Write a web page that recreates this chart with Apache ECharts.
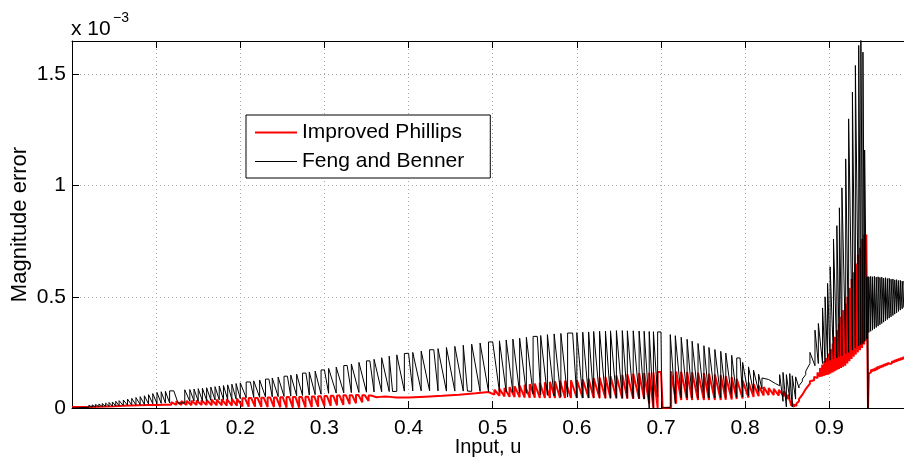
<!DOCTYPE html>
<html><head><meta charset="utf-8">
<script src="https://cdn.jsdelivr.net/npm/echarts@6/dist/echarts.min.js"></script>
<style>html,body{margin:0;padding:0;background:#fff}#c{width:904px;height:459px}</style>
</head><body><div id="c"></div>
<script>
// values: [u, low, high] vertices of the traced curves, magnitude error in units of 1e-3
const xMin = 0, xMax = 0.9888, xStep = 0.1;
const yMin = 0, yMax = 1.65, yStep = 0.5;
const seriesNames = ['Improved Phillips', 'Feng and Benner'];

const redStart = [[0,0.004,0.004],[0.020,0.005,0.005],[0.040,0.007,0.007],[0.050,0.008,0.010],[0.060,0.010,0.013],[0.070,0.011,0.015],[0.080,0.012,0.017],[0.090,0.013,0.019],[0.100,0.014,0.021],[0.110,0.015,0.023],[0.118,0.015,0.026],[0.124,0.014,0.030],[0.130,0.014,0.031],[0.136,0.014,0.032],[0.142,0.013,0.033],[0.148,0.013,0.034],[0.154,0.013,0.035],[0.160,0.013,0.036],[0.166,0.012,0.037],[0.172,0.012,0.038],[0.178,0.012,0.039],[0.184,0.011,0.040],[0.190,0.011,0.041],[0.196,0.010,0.042]];
const redSquare = [[0.2025,0.007,0.044],[0.2055,0.044,0.044],[0.2100,0.006,0.045],[0.2130,0.045,0.045],[0.2175,0.006,0.045],[0.2205,0.045,0.045],[0.2250,0.005,0.046],[0.2280,0.046,0.046],[0.2325,0.004,0.047],[0.2355,0.047,0.047],[0.2400,0.004,0.047],[0.2430,0.047,0.047],[0.2475,0.003,0.048],[0.2505,0.048,0.048],[0.2550,0.002,0.049],[0.2580,0.049,0.049],[0.2625,0.002,0.050],[0.2655,0.050,0.050],[0.2700,0.002,0.050],[0.2730,0.050,0.050],[0.2775,0.003,0.051],[0.2805,0.051,0.051],[0.2850,0.004,0.052],[0.2880,0.052,0.052],[0.2925,0.006,0.053],[0.2955,0.053,0.053],[0.3000,0.008,0.054],[0.3030,0.054,0.054],[0.3075,0.010,0.055],[0.3105,0.055,0.055],[0.3150,0.012,0.056],[0.3180,0.056,0.056],[0.3225,0.014,0.057],[0.3255,0.057,0.057],[0.3300,0.017,0.057],[0.3330,0.057,0.057],[0.3375,0.021,0.058],[0.3405,0.058,0.058],[0.3450,0.026,0.057],[0.3480,0.057,0.057],[0.3525,0.032,0.056],[0.3555,0.056,0.056]];
const redSmooth = [[0.362,0.048,0.055],[0.366,0.050,0.050],[0.372,0.052,0.056],[0.378,0.050,0.050],[0.385,0.047,0.052],[0.400,0.047,0.047],[0.420,0.051,0.052],[0.440,0.055,0.056],[0.460,0.060,0.061],[0.480,0.066,0.067],[0.495,0.072,0.075]];
const redOsc = [[0.502,0.060,0.082],[0.508,0.055,0.086],[0.514,0.052,0.090],[0.520,0.050,0.094],[0.526,0.049,0.098],[0.532,0.048,0.101],[0.538,0.047,0.104],[0.544,0.046,0.107],[0.550,0.046,0.110],[0.556,0.045,0.113],[0.562,0.045,0.116],[0.568,0.045,0.118],[0.574,0.045,0.120],[0.580,0.045,0.122],[0.586,0.045,0.123],[0.593,0.045,0.125],[0.600,0.045,0.126],[0.607,0.045,0.128],[0.614,0.045,0.131],[0.620,0.045,0.134],[0.627,0.045,0.137],[0.634,0.044,0.140],[0.640,0.044,0.143],[0.647,0.044,0.146],[0.654,0.043,0.149],[0.660,0.043,0.152],[0.667,0.042,0.154],[0.674,0.041,0.156],[0.680,0.040,0.157],[0.686,0.020,0.158],[0.691,0.000,0.160],[0.696,0.000,0.162],[0.700,0.162,0.162],[0.702,0.000,0.000],[0.712,0.002,0.165],[0.718,0.020,0.164]];
const redFall = [[0.724,0.036,0.163],[0.731,0.036,0.162],[0.737,0.036,0.161],[0.744,0.036,0.159],[0.751,0.036,0.157],[0.757,0.036,0.154],[0.764,0.036,0.151],[0.771,0.036,0.147],[0.777,0.037,0.143],[0.784,0.038,0.138],[0.790,0.040,0.131],[0.797,0.043,0.123],[0.804,0.047,0.115],[0.810,0.050,0.108],[0.816,0.053,0.100],[0.822,0.056,0.094],[0.828,0.058,0.090],[0.834,0.058,0.086],[0.840,0.056,0.082],[0.846,0.052,0.075],[0.851,0.040,0.060],[0.855,0.010,0.030],[0.858,0.004,0.015],[0.861,0.010,0.020],[0.864,0.030,0.040],[0.868,0.060,0.065],[0.872,0.085,0.090],[0.877,0.110,0.120],[0.882,0.125,0.140],[0.886,0.135,0.160]];
const redSpikes = [[0.889,0.140,0.180],[0.8915,0.142,0.195],[0.894,0.145,0.210],[0.8965,0.148,0.225],[0.899,0.150,0.245],[0.9015,0.155,0.265],[0.904,0.160,0.290],[0.9065,0.165,0.320],[0.909,0.170,0.350],[0.9115,0.175,0.380],[0.914,0.180,0.410],[0.9165,0.185,0.440],[0.919,0.190,0.470],[0.9215,0.200,0.500],[0.924,0.210,0.540],[0.9265,0.220,0.580],[0.929,0.230,0.610],[0.9315,0.240,0.650],[0.934,0.250,0.690],[0.9365,0.260,0.720],[0.939,0.270,0.760],[0.9415,0.285,0.780],[0.944,0.300,0.780]];
const redTail = [[0.9452,0.300,0.300],[0.9460,0.000,0.000],[0.9470,0.155,0.160],[0.9495,0.160,0.172],[0.952,0.165,0.175],[0.9545,0.168,0.180],[0.957,0.172,0.185],[0.9595,0.178,0.188],[0.962,0.182,0.192],[0.9645,0.186,0.196],[0.967,0.190,0.199],[0.9695,0.194,0.203],[0.972,0.198,0.206],[0.9745,0.201,0.210],[0.977,0.205,0.214],[0.9795,0.208,0.218],[0.982,0.212,0.221],[0.9845,0.215,0.225],[0.987,0.218,0.228],[0.9895,0.222,0.231],[0.992,0.225,0.234]];

const blackRise = [[0,0,0],[0.004,0.000,0.004],[0.008,0.001,0.006],[0.012,0.002,0.008],[0.016,0.002,0.010],[0.020,0.003,0.012],[0.024,0.004,0.014],[0.028,0.004,0.016],[0.032,0.005,0.018],[0.036,0.006,0.020],[0.040,0.006,0.022],[0.044,0.007,0.025],[0.048,0.008,0.027],[0.052,0.009,0.030],[0.056,0.010,0.033],[0.061,0.011,0.036],[0.066,0.012,0.040],[0.071,0.013,0.043],[0.076,0.014,0.047],[0.081,0.015,0.051],[0.086,0.016,0.055],[0.091,0.018,0.060],[0.096,0.019,0.065],[0.101,0.020,0.070],[0.106,0.021,0.073],[0.111,0.022,0.075],[0.116,0.023,0.077],[0.121,0.077,0.077],[0.126,0.022,0.022],[0.134,0.023,0.082],[0.140,0.030,0.083],[0.145,0.031,0.085],[0.150,0.032,0.087],[0.155,0.033,0.089],[0.160,0.034,0.091],[0.165,0.035,0.094],[0.170,0.036,0.096],[0.175,0.037,0.099],[0.180,0.038,0.101],[0.185,0.039,0.104],[0.190,0.040,0.107],[0.195,0.041,0.110],[0.200,0.042,0.113]];
const blackMid = [[0.207,0.046,0.117],[0.212,0.117,0.117],[0.216,0.047,0.122],[0.223,0.048,0.126],[0.230,0.049,0.130],[0.234,0.130,0.130],[0.238,0.050,0.135],[0.245,0.051,0.139],[0.252,0.052,0.143],[0.256,0.143,0.143],[0.260,0.053,0.148],[0.267,0.055,0.152],[0.274,0.056,0.157],[0.278,0.157,0.157],[0.282,0.058,0.162],[0.289,0.060,0.166],[0.296,0.062,0.171],[0.300,0.171,0.171],[0.305,0.066,0.178],[0.314,0.067,0.184],[0.323,0.068,0.191],[0.327,0.191,0.191],[0.332,0.069,0.198],[0.341,0.070,0.205],[0.350,0.071,0.212],[0.354,0.212,0.212],[0.359,0.072,0.219],[0.368,0.073,0.226],[0.377,0.074,0.233],[0.381,0.074,0.074],[0.386,0.075,0.239],[0.395,0.076,0.245],[0.400,0.246,0.246],[0.405,0.077,0.250],[0.415,0.077,0.256],[0.425,0.077,0.262],[0.430,0.262,0.262],[0.435,0.077,0.267],[0.445,0.076,0.272],[0.455,0.076,0.277],[0.465,0.076,0.282],[0.470,0.076,0.076],[0.475,0.075,0.287],[0.485,0.075,0.292],[0.495,0.074,0.297],[0.500,0.297,0.297]];
const blackHigh = [[0.508,0.073,0.302],[0.516,0.072,0.306],[0.524,0.070,0.310],[0.532,0.068,0.314],[0.540,0.066,0.318],[0.548,0.063,0.322],[0.553,0.322,0.322],[0.557,0.060,0.326],[0.565,0.057,0.330],[0.573,0.054,0.333],[0.581,0.051,0.335],[0.589,0.049,0.337],[0.595,0.337,0.337],[0.600,0.046,0.339],[0.607,0.045,0.341],[0.614,0.045,0.342],[0.620,0.045,0.344],[0.627,0.044,0.345],[0.634,0.044,0.346],[0.640,0.044,0.347],[0.647,0.044,0.348],[0.654,0.044,0.348],[0.660,0.043,0.347],[0.667,0.043,0.347],[0.674,0.042,0.346],[0.680,0.040,0.345],[0.686,0.000,0.344],[0.691,0.000,0.343],[0.696,0.050,0.342],[0.700,0.342,0.342],[0.701,0.000,0.000],[0.711,0.003,0.330],[0.717,0.020,0.325]];
const blackFall = [[0.724,0.045,0.318],[0.731,0.045,0.309],[0.737,0.045,0.300],[0.744,0.045,0.290],[0.751,0.045,0.280],[0.757,0.045,0.272],[0.764,0.046,0.263],[0.771,0.046,0.255],[0.777,0.047,0.247],[0.784,0.047,0.237],[0.790,0.048,0.225],[0.794,0.225,0.225],[0.797,0.050,0.205],[0.804,0.055,0.185],[0.810,0.070,0.170],[0.816,0.075,0.152],[0.820,0.085,0.135],[0.828,0.128,0.128],[0.836,0.110,0.110],[0.841,0.100,0.150],[0.845,0.030,0.160],[0.849,0.005,0.150],[0.853,0.040,0.155],[0.856,0.005,0.145],[0.860,0.040,0.140],[0.864,0.090,0.100],[0.868,0.120,0.130],[0.872,0.150,0.165]];
const blackPeak = [[0.877,0.200,0.250],[0.883,0.190,0.350],[0.887,0.200,0.380],[0.892,0.200,0.450],[0.895,0.205,0.500],[0.898,0.210,0.560],[0.901,0.215,0.635],[0.905,0.220,0.760],[0.909,0.225,0.820],[0.912,0.230,0.900],[0.915,0.235,0.990],[0.9195,0.245,1.120],[0.923,0.250,1.300],[0.9275,0.260,1.420],[0.931,0.270,1.540],[0.935,0.280,1.630],[0.9375,0.285,1.700],[0.940,0.290,1.600],[0.942,0.300,1.160],[0.9445,0.310,0.590]];
const blackTail = [[0.9460,0.000,0.590],[0.9470,0.340,0.590],[0.9492,0.345,0.592],[0.9514,0.350,0.590],[0.9536,0.356,0.592],[0.9558,0.362,0.588],[0.9580,0.368,0.590],[0.9602,0.374,0.587],[0.9624,0.380,0.588],[0.9646,0.386,0.584],[0.9668,0.392,0.586],[0.9690,0.398,0.582],[0.9712,0.404,0.583],[0.9734,0.410,0.579],[0.9756,0.416,0.580],[0.9778,0.422,0.576],[0.9800,0.428,0.577],[0.9822,0.434,0.573],[0.9844,0.440,0.574],[0.9866,0.446,0.570],[0.9888,0.452,0.571],[0.9910,0.458,0.568]];

function vertices(list) {
  const pts = [];
  for (const [u, lo, hi] of list) {
    pts.push([u, lo]);
    if (hi !== lo) pts.push([u, hi]);
  }
  return pts;
}
const redData = vertices([].concat(redStart, redSquare, redSmooth, redOsc, redFall, redSpikes, redTail));
const blackData = vertices([].concat(blackRise, blackMid, blackHigh, blackFall, blackPeak, blackTail));

const FONT = 'Liberation Sans, Arial, Helvetica, sans-serif';
const gridLine = { show: true, lineStyle: { color: '#a8a8a8', width: 1, type: [1, 3] } };

const chart = echarts.init(document.getElementById('c'), null, { renderer: 'canvas' });
chart.setOption({
  animation: false,
  backgroundColor: '#fff',
  grid: { left: 72, right: 0, top: 41, bottom: 51, containLabel: false, outerBoundsMode: 'none' },
  graphic: [
    { type: 'text', left: 71, top: 19, style: { text: 'x 10', font: '21px ' + FONT, fill: '#000' } },
    { type: 'text', left: 113, top: 11, style: { text: '\u22123', font: '14px ' + FONT, fill: '#000' } }
  ],
  legend: {
    orient: 'vertical', left: 246, top: 115,
    data: [
      { name: seriesNames[0], icon: 'path://M0,0H42V2H0Z' },
      { name: seriesNames[1], icon: 'path://M0,0H42V1H0Z' }
    ],
    itemWidth: 42, itemHeight: 2, itemGap: 8,
    itemStyle: { borderWidth: 0 },
    padding: [7, 26, 6, 9],
    borderColor: '#000', borderWidth: 1, backgroundColor: '#fff',
    textStyle: { fontSize: 21, fontFamily: FONT, color: '#000', lineHeight: 21 }
  },
  xAxis: [{
    type: 'value', min: xMin, max: xMax, interval: xStep, position: 'bottom',
    name: 'Input, u', nameLocation: 'middle', nameGap: 29, nameMoveOverlap: false,
    nameTextStyle: { fontSize: 20, fontFamily: FONT, color: '#000' },
    axisLine: { show: true, onZero: false, lineStyle: { color: '#000', width: 1 } },
    axisTick: { show: true, inside: true, length: 7, lineStyle: { color: '#000' } },
    axisLabel: { show: true, fontSize: 21, fontFamily: FONT, color: '#000', margin: 10, showMinLabel: false, showMaxLabel: false },
    splitLine: gridLine
  }, {
    type: 'value', min: xMin, max: xMax, interval: xStep, position: 'top',
    axisLine: { show: true, onZero: false, lineStyle: { color: '#000', width: 1 } },
    axisTick: { show: true, inside: true, length: 7, lineStyle: { color: '#000' } },
    axisLabel: { show: false }, splitLine: { show: false }
  }],
  yAxis: {
    type: 'value', min: yMin, max: yMax, interval: yStep,
    name: 'Magnitude error', nameLocation: 'middle', nameGap: 41, nameMoveOverlap: false,
    nameTextStyle: { fontSize: 22, fontFamily: FONT, color: '#000' },
    axisLine: { show: true, onZero: false, lineStyle: { color: '#000', width: 1 } },
    axisTick: { show: true, inside: true, length: 7, lineStyle: { color: '#000' } },
    axisLabel: { fontSize: 21, fontFamily: FONT, color: '#000', margin: 6, showMaxLabel: false },
    splitLine: gridLine
  },
  series: [{
    name: seriesNames[0], type: 'line', data: redData, xAxisIndex: 0,
    symbol: 'none', showSymbol: false, smooth: false, clip: true, z: 2,
    lineStyle: { color: '#ff0000', width: 2 }, itemStyle: { color: '#ff0000' }
  }, {
    name: seriesNames[1], type: 'line', data: blackData, xAxisIndex: 0,
    symbol: 'none', showSymbol: false, smooth: false, clip: true, z: 3,
    lineStyle: { color: '#000000', width: 1 }, itemStyle: { color: '#000000' }
  }]
});
</script>
</body></html>
